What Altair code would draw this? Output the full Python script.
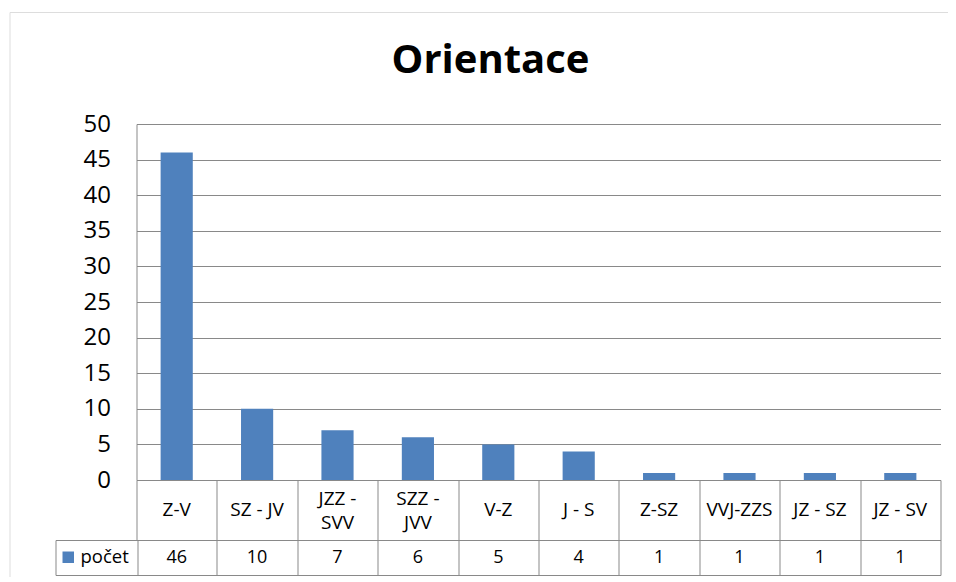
import altair as alt
import pandas as pd

# ---- data ----
title_text = "Orientace"
series_name = "počet"
categories = ["Z-V", "SZ - JV", "JZZ - SVV", "SZZ - JVV", "V-Z",
              "J - S", "Z-SZ", "VVJ-ZZS", "JZ - SZ", "JZ - SV"]
counts = [46, 10, 7, 6, 5, 4, 1, 1, 1, 1]
y_ticks = [0, 5, 10, 15, 20, 25, 30, 35, 40, 45, 50]

df = pd.DataFrame({
    "kategorie": categories,
    "pocet": counts,
    "serie": [series_name] * len(categories),
})

# ---- styling / layout ----
GRID = "#898989"
BLUE = "#4F81BD"
FONT = "Open Sans"
VW, VH = 950, 575          # outer chart frame (view), partly clipped like the reference
PLOT_L, PLOT_R = 127, 931  # plot area, relative to frame
PLOT_T, PLOT_B = 112, 468
ROW1_B = 528               # bottom of category row
ROW2_B = 563               # bottom of value row
LINE_H = 24

x_scale = alt.Scale(domain=categories, range=[PLOT_L, PLOT_R],
                    paddingInner=0, paddingOuter=0)
row1_scale = alt.Scale(type="point", range=[PLOT_B, ROW1_B], padding=0.5)
row2_scale = alt.Scale(type="point", range=[ROW1_B, ROW2_B], padding=0.5)

base = alt.Chart(df)

bars = base.mark_bar(width={"band": 0.4}).encode(
    x=alt.X("kategorie:N", scale=x_scale, title=None,
            axis=alt.Axis(orient="bottom", offset=PLOT_B - VH, labels=False,
                          ticks=True, tickBand="extent", tickSize=ROW2_B - PLOT_B,
                          tickColor=GRID, tickWidth=1, domainColor=GRID,
                          domainWidth=1, grid=False)),
    y=alt.Y("pocet:Q", title=None,
            scale=alt.Scale(domain=[0, 50], range=[PLOT_B, PLOT_T], nice=False),
            axis=alt.Axis(orient="left", offset=-PLOT_L, values=y_ticks,
                          grid=True, gridColor=GRID, gridWidth=1,
                          domainColor=GRID, domainWidth=1, ticks=False,
                          labelFontSize=24, labelPadding=26,
                          labelColor="black", labelFont=FONT)),
    color=alt.Color("serie:N", scale=alt.Scale(range=[BLUE]),
                    legend=alt.Legend(orient="none", legendX=46, legendY=ROW1_B,
                                      title=None, symbolType="square",
                                      symbolSize=132, symbolStrokeWidth=0,
                                      symbolOffset={"expr": "-4.5"},
                                      labelFontSize=18.5, labelColor="black",
                                      labelFont=FONT, labelOffset=3,
                                      padding=8,
                                      strokeColor=GRID, fillColor="white")),
)

# category names: short ones on one line, long "A - B" ones wrapped onto two lines
cat_short = base.transform_filter(
    "length(datum.kategorie) <= 7"
).mark_text(fontSize=19, baseline="middle", color="black", font=FONT).encode(
    x=alt.X("kategorie:N", scale=x_scale, title=None,
            axis=alt.Axis(orient="bottom", offset=ROW1_B - VH, labels=False,
                          ticks=False, domainColor=GRID, domainWidth=1, grid=False)),
    y=alt.Y("serie:N", axis=None, scale=row1_scale),
    text="kategorie:N",
)

cat_long = base.transform_filter(
    "length(datum.kategorie) > 7"
).transform_calculate(
    lbl="replace(datum.kategorie, ' - ', ' -\\n')"
).mark_text(fontSize=19, lineBreak="\n", lineHeight=LINE_H, baseline="middle",
            dy=-LINE_H / 2 + 1, color="black", font=FONT).encode(
    x=alt.X("kategorie:N", scale=x_scale, title=None, axis=None),
    y=alt.Y("serie:N", axis=None, scale=row1_scale),
    text="lbl:N",
)

val_text = base.mark_text(fontSize=18, baseline="middle", color="black",
                          font=FONT).encode(
    x=alt.X("kategorie:N", scale=x_scale, title=None,
            axis=alt.Axis(orient="bottom", offset=ROW2_B - VH, labels=False,
                          ticks=False, domainColor=GRID, domainWidth=1, grid=False)),
    y=alt.Y("serie:N", axis=None, scale=row2_scale),
    text="pocet:Q",
)

chart = alt.layer(bars, cat_short, cat_long, val_text).resolve_scale(
    y="independent"
).resolve_axis(
    x="independent", y="independent"
).properties(
    width=VW, height=VH,
    autosize=alt.AutoSizeParams(type="none"),
    padding={"left": 1.5, "top": 4, "right": -12, "bottom": -10.5},
    title=alt.Title(title_text, fontSize=40, fontWeight="bold", font=FONT,
                    anchor="middle", frame="group", offset=-47,
                    baseline="middle", color="black", dx=6, dy=42),
).configure_view(
    stroke=GRID, strokeWidth=1, fill="white"
).configure(font=FONT, background="white")

chart.save("out.html", embed_options={"renderer": "svg", "actions": False})
